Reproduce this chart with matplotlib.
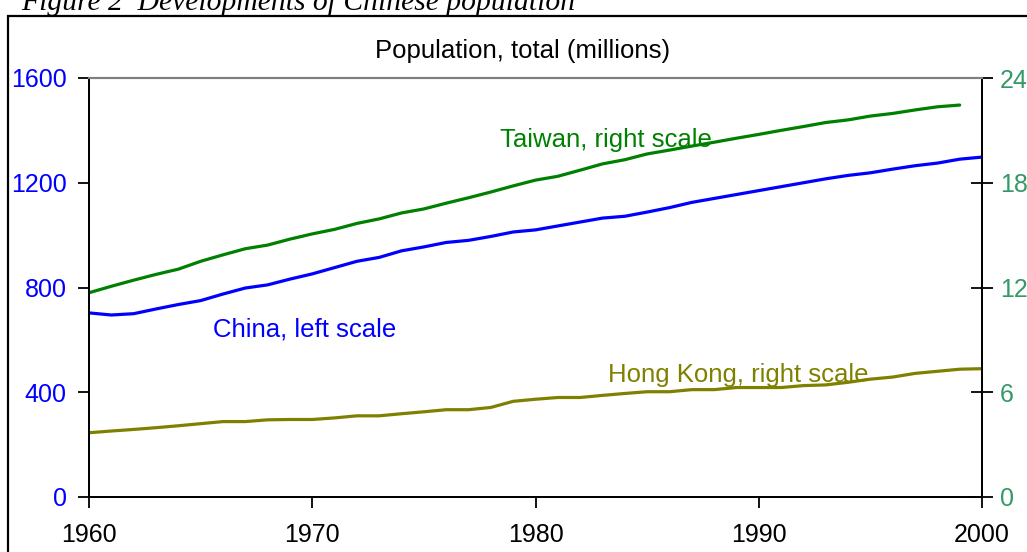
import matplotlib
matplotlib.use("Agg")
import matplotlib.pyplot as plt
from matplotlib.patches import Rectangle

# population in millions
years = list(range(1960, 2001))
china = [703, 695, 700, 718, 735, 750, 775, 798, 810, 832,
         852, 876, 900, 915, 940, 955, 972, 980, 995, 1012,
         1020, 1035, 1050, 1065, 1072, 1088, 1105, 1125, 1140, 1155,
         1170, 1185, 1200, 1215, 1228, 1238, 1252, 1265, 1275, 1290,
         1298]
taiwan_years = list(range(1960, 2000))
taiwan = [11.70, 12.07, 12.42, 12.75, 13.05, 13.50, 13.87, 14.22, 14.43, 14.77,
          15.07, 15.33, 15.67, 15.93, 16.27, 16.50, 16.83, 17.14, 17.47, 17.82,
          18.15, 18.37, 18.72, 19.08, 19.32, 19.65, 19.87, 20.10, 20.32, 20.55,
          20.77, 21.00, 21.22, 21.45, 21.60, 21.82, 21.97, 22.17, 22.35, 22.45]
hong_kong = [3.68, 3.78, 3.87, 3.97, 4.08, 4.20, 4.32, 4.32, 4.42, 4.44,
             4.44, 4.53, 4.65, 4.65, 4.77, 4.88, 5.00, 5.00, 5.13, 5.48,
             5.60, 5.70, 5.70, 5.82, 5.93, 6.03, 6.03, 6.15, 6.15, 6.27,
             6.27, 6.27, 6.38, 6.42, 6.57, 6.75, 6.87, 7.08, 7.20, 7.32,
             7.35]
left_ticks = [0, 400, 800, 1200, 1600]
right_ticks = [0, 6, 12, 18, 24]
x_ticks = [1960, 1970, 1980, 1990, 2000]

BLUE, GREEN, OLIVE, SEA = "#0000FF", "#008000", "#808000", "#339966"
plt.rcParams.update({"font.family": ["Liberation Sans", "DejaVu Sans"]})

fig = plt.figure(figsize=(10.27, 5.52), dpi=100)
W, H = 1027, 552
ax = fig.add_axes([89 / W, 1 - 497 / H, (982 - 89) / W, (497 - 78) / H])
ax2 = ax.twinx()

# outer frame and figure caption (clipped at the top like the source)
fig.patches.append(Rectangle((8 / W, -0.1), 1.2, 1 - 16 / H + 0.1, transform=fig.transFigure,
                             fill=False, edgecolor="black", linewidth=1.6))
fig.text(21 / W, 1 - 10 / H, "Figure 2  Developments of Chinese population",
         family="Liberation Serif", style="italic", fontsize=21.3, va="baseline", ha="left")

ax.plot(years, china, color=BLUE, lw=2.3, solid_capstyle="round")
ax2.plot(taiwan_years, taiwan, color=GREEN, lw=2.3, solid_capstyle="round")
ax2.plot(years, hong_kong, color=OLIVE, lw=2.3, solid_capstyle="round")

ax.set_xlim(1960, 2000)
ax.set_ylim(0, 1600)
ax2.set_ylim(0, 24)
ax.set_xticks(x_ticks)
ax.set_yticks(left_ticks)
ax2.set_yticks(right_ticks)

ax.tick_params(axis="x", direction="out", length=8, width=1.3, pad=11, labelsize=18)
ax.tick_params(axis="y", direction="out", length=8, width=1.3, pad=8, labelsize=18,
               labelcolor=BLUE)
ax2.tick_params(axis="y", direction="inout", length=16, width=1.3, pad=5, labelsize=18,
                labelcolor=SEA)

for a in (ax, ax2):
    a.spines["top"].set_color("#808080")
    a.spines["top"].set_linewidth(1.5)
    for s in ("left", "right", "bottom"):
        a.spines[s].set_linewidth(1.3)

ax.text(0.485, 1 + 20 / 419, "Population, total (millions)", transform=ax.transAxes,
        fontsize=18.5, ha="center", va="baseline")

ax.text(1978.4, 1336, "Taiwan, right scale", color=GREEN, fontsize=18.5, va="baseline")
ax.text(1965.55, 611, "China, left scale", color=BLUE, fontsize=18.5, va="baseline")
ax.text(1983.25, 439, "Hong Kong, right scale", color=OLIVE, fontsize=18.5, va="baseline")

fig.savefig("out.png", dpi=100)
